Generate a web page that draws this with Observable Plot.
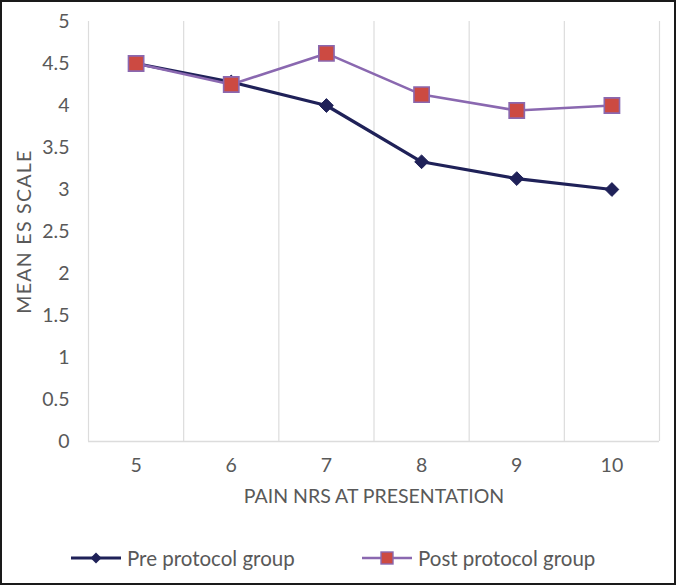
<!DOCTYPE html>
<html>
<head>
<meta charset="utf-8">
<script src="https://cdn.jsdelivr.net/npm/d3@7"></script>
<script src="https://cdn.jsdelivr.net/npm/@observablehq/plot@0.6"></script>
<style>
  html, body { margin: 0; padding: 0; background: #fff; }
  #wrap { position: relative; width: 676px; height: 585px; overflow: hidden; background: #fff; font-family: Lato, "Open Sans", sans-serif; }
  #border { position: absolute; left: 0; top: 0; width: 676px; height: 585px; box-sizing: border-box; border: 2px solid #1a1a1a; pointer-events: none; }
  #chart { position: absolute; left: 0; top: 0; }
  #legend { position: absolute; left: 0; top: 543px; width: 676px; height: 30px; }
  .item { position: absolute; top: 0; display: flex; align-items: center; height: 30px; color: #595959; font-size: 20.5px; }
  .item svg { margin-right: 4px; }
  #chart g[aria-label="y-axis label"] text { letter-spacing: 1.3px; }
</style>
</head>
<body>
<div id="wrap">
  <div id="chart"></div>
  <div id="legend"></div>
  <div id="border"></div>
</div>
<script>
const painNRS = [5, 6, 7, 8, 9, 10];
const preProtocol = [4.5, 4.28, 4.0, 3.33, 3.13, 3.0];
const postProtocol = [4.5, 4.25, 4.62, 4.13, 3.94, 4.0];
const seriesNames = ["Pre protocol group", "Post protocol group"];
const yTicks = [0, 0.5, 1, 1.5, 2, 2.5, 3, 3.5, 4, 4.5, 5];

const preColor = "#1f2158";
const postLine = "#8a68b0";
const postFill = "#cc4a42";

const pre = painNRS.map((x, i) => ({x, y: preProtocol[i], s: seriesNames[0]}));
const post = painNRS.map((x, i) => ({x, y: postProtocol[i], s: seriesNames[1]}));
const gridX = painNRS.map(d => d - 0.5).concat([painNRS[painNRS.length - 1] + 0.5]);

const chart = Plot.plot({
  width: 676,
  height: 525,
  marginLeft: 88,
  marginRight: 17,
  marginTop: 21,
  marginBottom: 84,
  style: {fontFamily: "Lato, 'Open Sans', sans-serif", fontSize: "19px", color: "#595959", background: "transparent"},
  x: {domain: [painNRS[0] - 0.5, painNRS[painNRS.length - 1] + 0.5]},
  y: {domain: [0, 5]},
  marks: [
    Plot.ruleX(gridX, {stroke: "#dcdcdc", strokeWidth: 1.2}),
    Plot.ruleY([0], {stroke: "#dcdcdc", strokeWidth: 1.5}),
    Plot.axisY({ticks: yTicks, tickSize: 0, tickPadding: 19, tickFormat: d => String(d), label: "MEAN ES SCALE", labelAnchor: "center", labelArrow: "none", labelOffset: 71, fontSize: 19.5}),
    Plot.axisX({ticks: painNRS, tickSize: 0, tickPadding: 17, tickFormat: d => String(d), label: "PAIN NRS AT PRESENTATION", labelAnchor: "center", labelArrow: "none", labelOffset: 61, fontSize: 19.5}),
    Plot.line(pre, {x: "x", y: "y", stroke: preColor, strokeWidth: 3.2}),
    Plot.dot(pre, {x: "x", y: "y", symbol: "diamond2", r: 6.2, fill: preColor, stroke: preColor, strokeWidth: 1}),
    Plot.line(post, {x: "x", y: "y", stroke: postLine, strokeWidth: 2.6}),
    Plot.dot(post, {x: "x", y: "y", symbol: "square", r: 8.6, fill: postFill, stroke: postLine, strokeWidth: 1.6})
  ]
});
document.getElementById("chart").appendChild(chart);

// Legend
const legend = document.getElementById("legend");
const legendSpecs = [
  {name: seriesNames[0], left: 71, line: preColor, lw: 3.2, marker: "diamond"},
  {name: seriesNames[1], left: 362, line: postLine, lw: 2.6, marker: "square"}
];
legendSpecs.forEach(spec => {
  const div = document.createElement("div");
  div.className = "item";
  div.style.left = spec.left + "px";
  const ns = "http://www.w3.org/2000/svg";
  const svg = document.createElementNS(ns, "svg");
  svg.setAttribute("width", 52);
  svg.setAttribute("height", 30);
  const ln = document.createElementNS(ns, "line");
  ln.setAttribute("x1", 0); ln.setAttribute("x2", 50);
  ln.setAttribute("y1", 15); ln.setAttribute("y2", 15);
  ln.setAttribute("stroke", spec.line); ln.setAttribute("stroke-width", spec.lw);
  svg.appendChild(ln);
  if (spec.marker === "diamond") {
    const p = document.createElementNS(ns, "path");
    p.setAttribute("d", "M25,9.5 L30.5,15 L25,20.5 L19.5,15 Z");
    p.setAttribute("fill", preColor);
    svg.appendChild(p);
  } else {
    const r = document.createElementNS(ns, "rect");
    r.setAttribute("x", 19); r.setAttribute("y", 9); r.setAttribute("width", 12); r.setAttribute("height", 12);
    r.setAttribute("fill", postFill); r.setAttribute("stroke", postLine); r.setAttribute("stroke-width", 1.4);
    svg.appendChild(r);
  }
  div.appendChild(svg);
  const span = document.createElement("span");
  span.textContent = spec.name;
  div.appendChild(span);
  legend.appendChild(div);
});
</script>
</body>
</html>
